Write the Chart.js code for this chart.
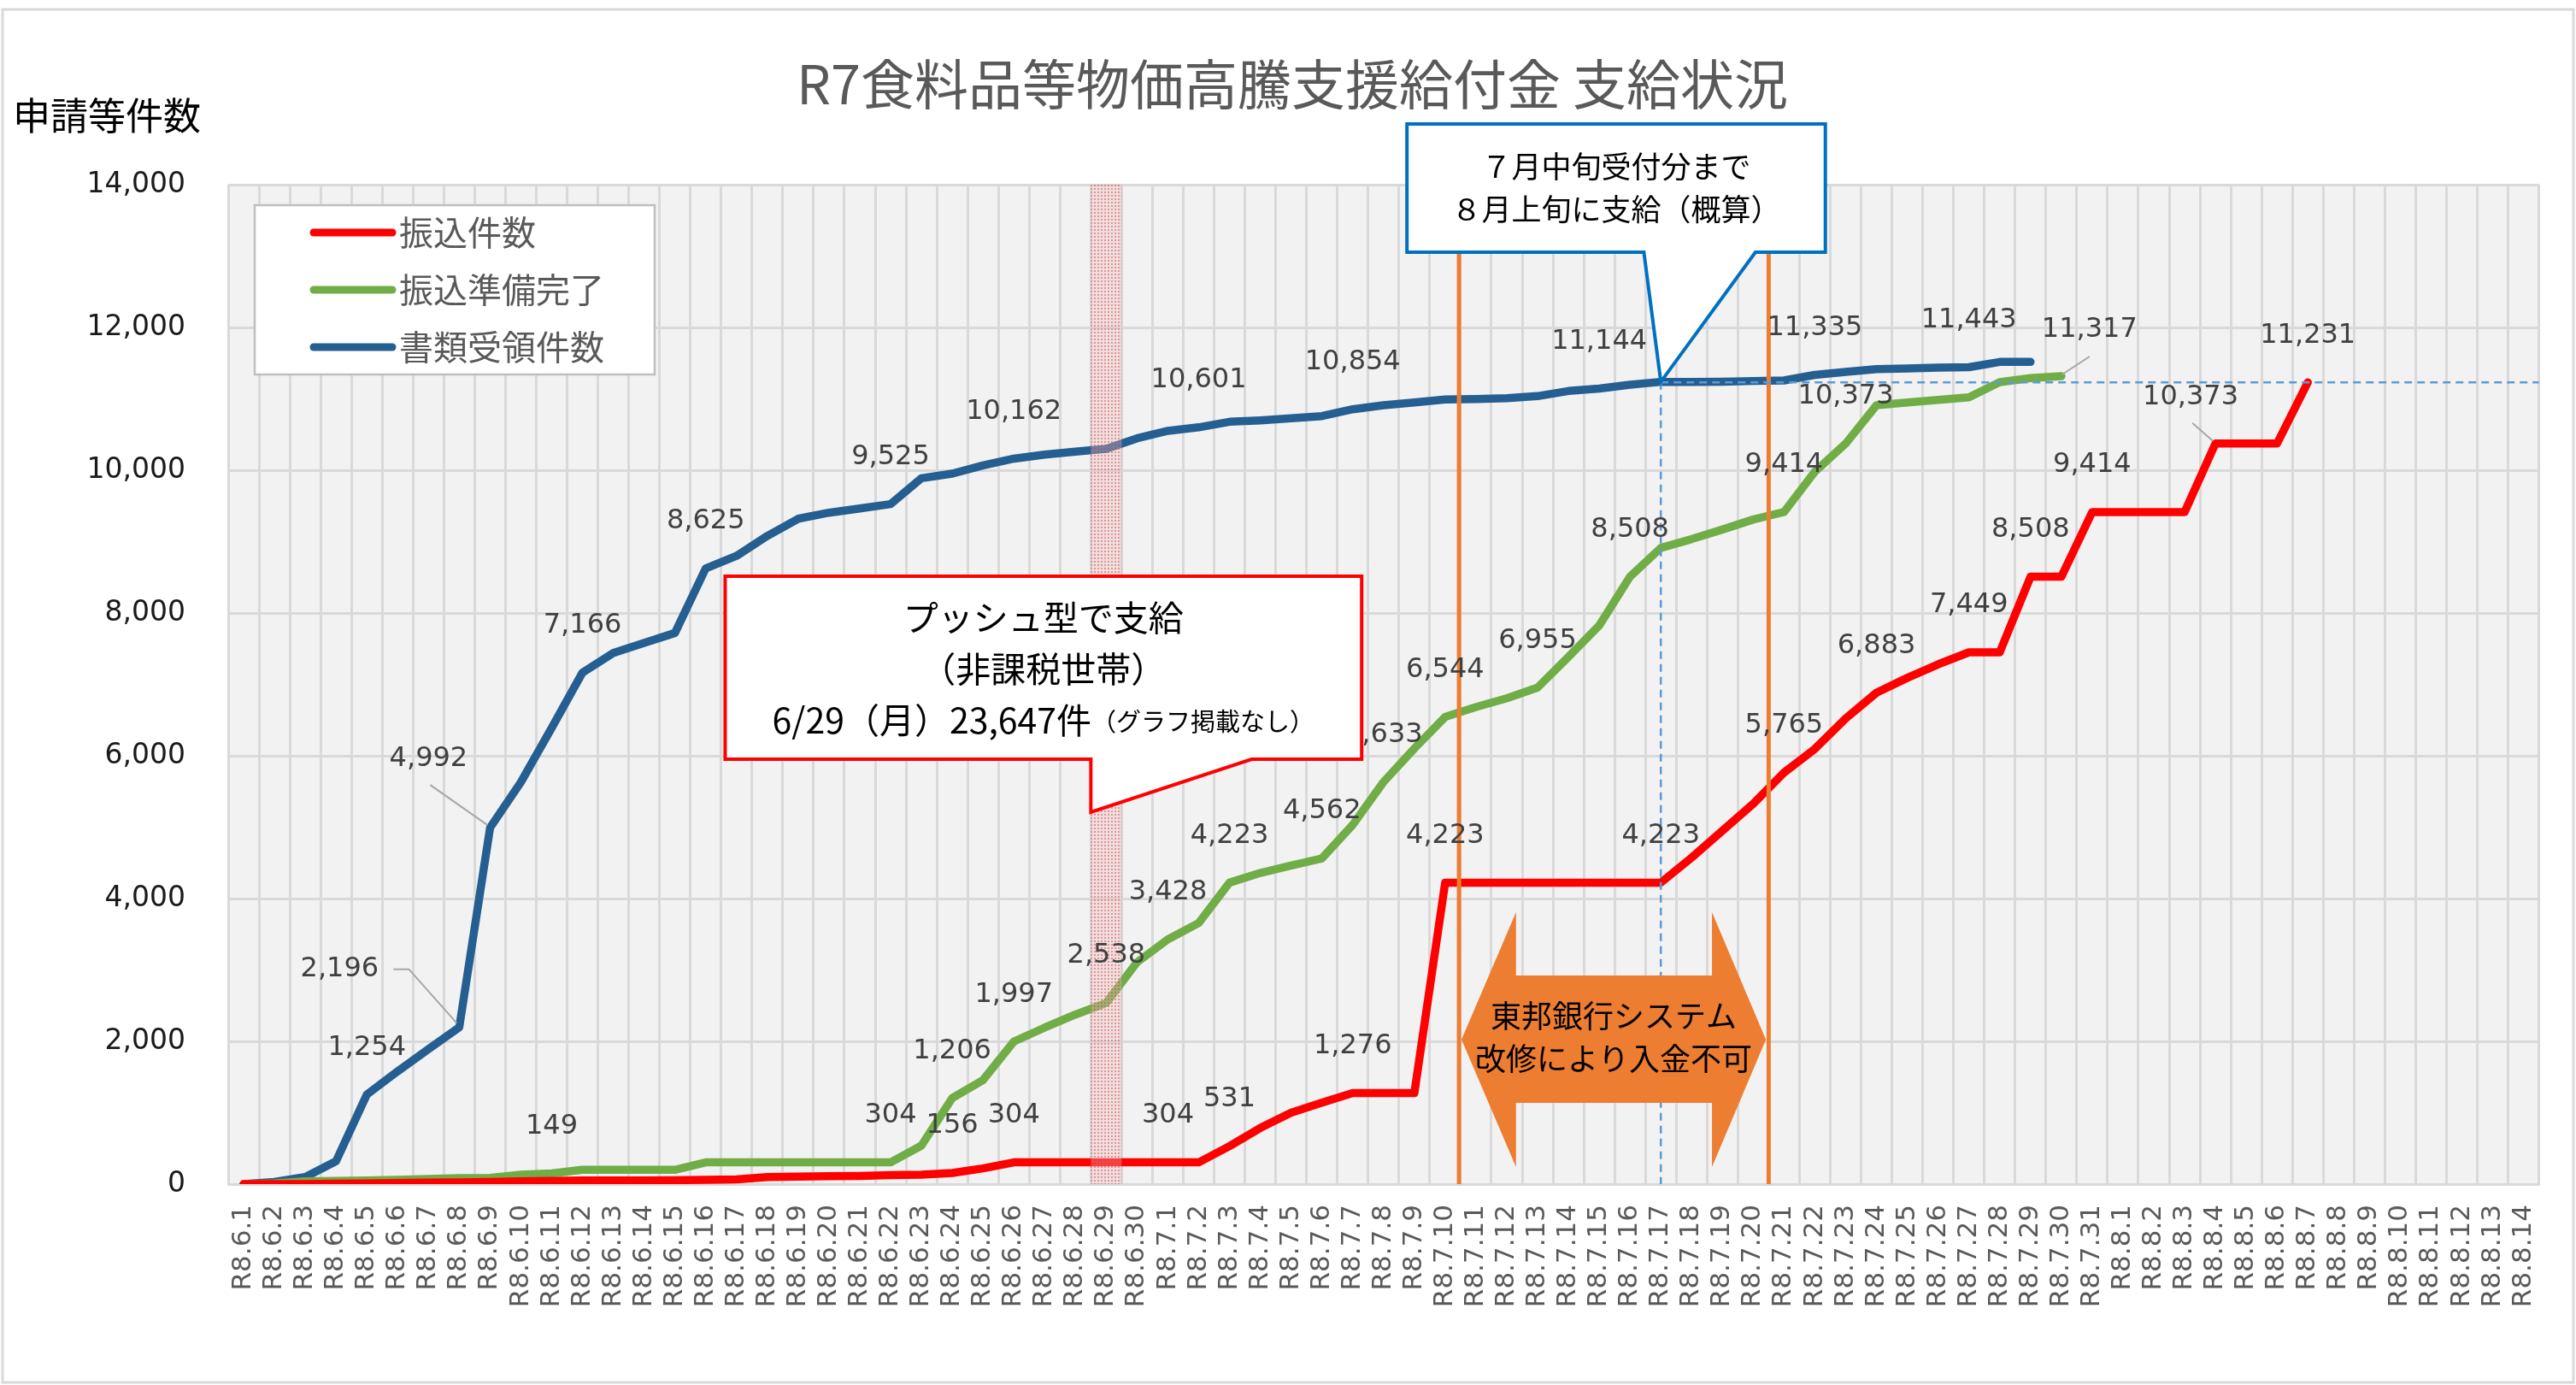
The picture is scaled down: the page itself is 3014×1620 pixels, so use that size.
<!DOCTYPE html>
<html lang="ja">
<head>
<meta charset="utf-8">
<title>R7食料品等物価高騰支援給付金 支給状況</title>
<script src="https://cdn.jsdelivr.net/npm/chart.js@4.4.1/dist/chart.umd.min.js"></script>
<style>
  html, body { margin: 0; padding: 0; background: #fff; }
  #wrap { width: 3014px; height: 1620px; }
</style>
</head>
<body>
<div id="wrap"><canvas id="chart" width="3014" height="1620"></canvas></div>
<script>
// 日付（R8.6.1 〜 R8.8.14）
const dates = [
  'R8.6.1','R8.6.2','R8.6.3','R8.6.4','R8.6.5','R8.6.6','R8.6.7','R8.6.8','R8.6.9','R8.6.10',
  'R8.6.11','R8.6.12','R8.6.13','R8.6.14','R8.6.15','R8.6.16','R8.6.17','R8.6.18','R8.6.19','R8.6.20',
  'R8.6.21','R8.6.22','R8.6.23','R8.6.24','R8.6.25','R8.6.26','R8.6.27','R8.6.28','R8.6.29','R8.6.30',
  'R8.7.1','R8.7.2','R8.7.3','R8.7.4','R8.7.5','R8.7.6','R8.7.7','R8.7.8','R8.7.9','R8.7.10',
  'R8.7.11','R8.7.12','R8.7.13','R8.7.14','R8.7.15','R8.7.16','R8.7.17','R8.7.18','R8.7.19','R8.7.20',
  'R8.7.21','R8.7.22','R8.7.23','R8.7.24','R8.7.25','R8.7.26','R8.7.27','R8.7.28','R8.7.29','R8.7.30',
  'R8.7.31','R8.8.1','R8.8.2','R8.8.3','R8.8.4','R8.8.5','R8.8.6','R8.8.7','R8.8.8','R8.8.9',
  'R8.8.10','R8.8.11','R8.8.12','R8.8.13','R8.8.14'
];

const seriesNames = ['振込件数', '振込準備完了', '書類受領件数'];

// 振込件数
const transferCount = [
  0, 0, 0, 5, 10, 15, 20, 25, 30, 40,
  45, 50, 50, 52, 55, 60, 65, 100, 105, 110,
  115, 125, 131, 156, 220, 304, 304, 304, 304, 304,
  304, 304, 531, 786, 1000, 1140, 1276, 1276, 1276, 4223,
  4223, 4223, 4223, 4223, 4223, 4223, 4223, 4574, 4950, 5327,
  5765, 6097, 6523, 6883, 7091, 7281, 7449, 7449, 8508, 8508,
  9414, 9414, 9414, 9414, 10373, 10373, 10373, 11231
];

// 振込準備完了
const readyCount = [
  0, 10, 40, 44, 52, 60, 72, 84, 88, 131,
  149, 200, 200, 200, 200, 304, 304, 304, 304, 304,
  304, 304, 539, 1206, 1457, 1997, 2192, 2375, 2538, 3108,
  3428, 3657, 4223, 4359, 4463, 4562, 5033, 5633, 6102, 6544,
  6683, 6805, 6955, 7385, 7825, 8508, 8912, 9035, 9169, 9310,
  9414, 9980, 10373, 10910, 10950, 10985, 11022, 11233, 11290, 11317
];

// 書類受領件数
const receivedCount = [
  0, 30, 100, 320, 1254, 1580, 1890, 2196, 4992, 5630,
  6390, 7166, 7440, 7580, 7720, 8625, 8800, 9080, 9320, 9405,
  9465, 9525, 9888, 9952, 10068, 10162, 10219, 10260, 10299, 10447,
  10551, 10601, 10679, 10699, 10727, 10758, 10854, 10910, 10950, 10990,
  10998, 11010, 11038, 11110, 11144, 11198, 11238, 11238, 11240, 11250,
  11257, 11335, 11377, 11417, 11425, 11437, 11443, 11517, 11517
];

// y軸目盛
const yTicks = [0, 2000, 4000, 6000, 8000, 10000, 12000, 14000];

// 値ラベルを出す日（インデックス）
const transferLabelIdx = [23, 25, 30, 32, 36, 39, 46, 50, 53, 56, 58, 60, 64, 67];
const readyLabelIdx = [10, 21, 23, 25, 28, 30, 32, 35, 37, 39, 42, 45, 50, 52, 59];
const receivedLabelIdx = [4, 7, 8, 11, 15, 21, 25, 31, 36, 44, 51, 56];

const colors = ['#FF0000', '#70AD47', '#255E91'];
const FONT_JP = '"Noto Sans CJK JP", "Noto Sans", sans-serif';
const FONT_NUM = '"DejaVu Sans", "Noto Sans", sans-serif';

// ラベル位置の個別調整（点からのずれ px、引き出し線）
const labelTweaks = {
  'b7':  { dx: -140, dy: -68, leader: [[-77, -68], [-59, -68], [-3, -5]] },
  'b8':  { dx: -72, dy: -80, leader: [[-70, -50], [-3, -3]] },
  'g59': { dx: 33, dy: -54, leader: [[1, -2], [33, -23]] },
  'r64': { dx: -29, dy: -54, leader: [[-3, -3], [-27, -24]] }
};

// 注記（カテゴリ位置・値で指定）
const pushDayIdx = 28;            // 6/29
const bankStopLines = [39.45, 49.5];
const cutoffIdx = 46;             // 7/17

const pushNote = {
  box: [15.63, 36.29, 8515, 5952],
  pointer: [27.5, 32.72],
  tip: [27.5, 5210]
};
const cutoffNote = {
  box: [37.76, 51.34, 14850, 13054],
  pointer: [45.45, 49.07]
};
const bankArrow = { x: [39.53, 41.3, 47.66, 49.41], y: [3808, 2922, 2024, 1138, 240] };

function px(chart, idx) {
  const s = chart.scales.x;
  const a = s.getPixelForValue(0), b = s.getPixelForValue(1);
  return a + (b - a) * idx;
}
function py(chart, v) {
  return chart.scales.y.getPixelForValue(v);
}
function text(ctx, str, x, y, font, color, align) {
  ctx.font = font;
  ctx.fillStyle = color;
  ctx.textAlign = align || 'center';
  ctx.textBaseline = 'middle';
  ctx.fillText(str, x, y);
}

function dotPattern(ctx) {
  const c = document.createElement('canvas');
  c.width = 4; c.height = 4;
  const g = c.getContext('2d');
  g.fillStyle = 'rgba(240,190,190,0.35)';
  g.fillRect(0, 0, 4, 4);
  g.fillStyle = 'rgba(200,60,60,0.45)';
  g.fillRect(0, 0, 2, 2);
  return ctx.createPattern(c, 'repeat');
}

const backgroundPlugin = {
  id: 'background',
  beforeDraw(chart) {
    const { ctx, chartArea: a } = chart;
    ctx.save();
    ctx.fillStyle = '#fff';
    ctx.fillRect(0, 0, chart.width, chart.height);
    ctx.strokeStyle = '#D9D9D9';
    ctx.lineWidth = 3;
    ctx.strokeRect(3, 11, chart.width - 6, chart.height - 14);
    ctx.fillStyle = '#F2F2F2';
    ctx.fillRect(a.left, a.top, a.right - a.left, a.bottom - a.top);
    ctx.restore();
  }
};

const overlayPlugin = {
  id: 'overlay',
  afterDatasetsDraw(chart) {
    const { ctx, chartArea: a } = chart;
    ctx.save();

    // 6/29 プッシュ型支給の帯
    const step = px(chart, 1) - px(chart, 0);
    ctx.fillStyle = dotPattern(ctx);
    ctx.fillRect(px(chart, pushDayIdx) - step / 2, a.top, step, a.bottom - a.top);

    // システム改修期間の縦線
    ctx.strokeStyle = '#ED7D31';
    ctx.lineWidth = 5;
    bankStopLines.forEach(i => {
      const x = px(chart, i);
      ctx.beginPath(); ctx.moveTo(x, a.top); ctx.lineTo(x, a.bottom); ctx.stroke();
    });

    // 7/17 の補助点線
    const finalTransfer = transferCount[transferCount.length - 1];
    ctx.strokeStyle = '#5B9BD5';
    ctx.lineWidth = 2.5;
    ctx.setLineDash([9, 6]);
    ctx.beginPath();
    ctx.moveTo(px(chart, cutoffIdx), py(chart, receivedCount[cutoffIdx]));
    ctx.lineTo(px(chart, cutoffIdx), a.bottom);
    ctx.moveTo(px(chart, cutoffIdx), py(chart, finalTransfer));
    ctx.lineTo(a.right, py(chart, finalTransfer));
    ctx.stroke();
    ctx.setLineDash([]);

    // 値ラベル
    const sets = [
      { key: 'r', data: transferCount, idx: transferLabelIdx },
      { key: 'g', data: readyCount, idx: readyLabelIdx },
      { key: 'b', data: receivedCount, idx: receivedLabelIdx }
    ];
    sets.forEach(s => {
      s.idx.forEach(i => {
        const x = px(chart, i), y = py(chart, s.data[i]);
        const t = labelTweaks[s.key + i] || { dx: 0, dy: -55 };
        if (t.leader) {
          ctx.strokeStyle = '#A6A6A6';
          ctx.lineWidth = 2;
          ctx.beginPath();
          t.leader.forEach((p, k) => k ? ctx.lineTo(x + p[0], y + p[1]) : ctx.moveTo(x + p[0], y + p[1]));
          ctx.stroke();
        }
        text(ctx, s.data[i].toLocaleString('en-US'), x + t.dx, y + t.dy, '32px ' + FONT_NUM, '#404040');
      });
    });

    // プッシュ型吹き出し
    drawCallout(chart, pushNote, [px(chart, pushNote.tip[0]), py(chart, pushNote.tip[1])], '#FF0000');
    const pb = pushNote.box;
    const pcx = (px(chart, pb[0]) + px(chart, pb[1])) / 2;
    const ptop = py(chart, pb[2]);
    text(ctx, 'プッシュ型で支給', pcx, ptop + 48, '41px ' + FONT_JP, '#000');
    text(ctx, '（非課税世帯）', pcx, ptop + 108, '41px ' + FONT_JP, '#000');
    const main = '6/29（月）23,647件', sub = '（グラフ掲載なし）';
    ctx.font = '41px ' + FONT_JP;
    const w1 = ctx.measureText(main).width;
    ctx.font = '29px ' + FONT_JP;
    const w2 = ctx.measureText(sub).width;
    const sx = pcx - (w1 + w2) / 2;
    text(ctx, main, sx, ptop + 168, '41px ' + FONT_JP, '#000', 'left');
    text(ctx, sub, sx + w1, ptop + 170, '29px ' + FONT_JP, '#000', 'left');

    // 7月中旬受付分の吹き出し
    drawCallout(chart, cutoffNote, [px(chart, cutoffIdx), py(chart, receivedCount[cutoffIdx])], '#0070C0');
    const cb = cutoffNote.box;
    const ccx = (px(chart, cb[0]) + px(chart, cb[1])) / 2;
    const ctop = py(chart, cb[2]);
    text(ctx, '７月中旬受付分まで', ccx, ctop + 50, '35px ' + FONT_JP, '#000');
    text(ctx, '８月上旬に支給（概算）', ccx, ctop + 100, '35px ' + FONT_JP, '#000');

    // 入金不可の両矢印
    const ax = bankArrow.x.map(v => px(chart, v));
    const ay = bankArrow.y.map(v => py(chart, v));
    ctx.fillStyle = '#ED7D31';
    ctx.beginPath();
    ctx.moveTo(ax[0], ay[2]);
    ctx.lineTo(ax[1], ay[0]);
    ctx.lineTo(ax[1], ay[1]);
    ctx.lineTo(ax[2], ay[1]);
    ctx.lineTo(ax[2], ay[0]);
    ctx.lineTo(ax[3], ay[2]);
    ctx.lineTo(ax[2], ay[4]);
    ctx.lineTo(ax[2], ay[3]);
    ctx.lineTo(ax[1], ay[3]);
    ctx.lineTo(ax[1], ay[4]);
    ctx.closePath();
    ctx.fill();
    const acx = (ax[0] + ax[3]) / 2;
    text(ctx, '東邦銀行システム', acx, ay[2] - 28, '36px ' + FONT_JP, '#000');
    text(ctx, '改修により入金不可', acx, ay[2] + 22, '36px ' + FONT_JP, '#000');

    // 凡例
    const lx = a.left + 31, ly = a.top + 24;
    ctx.fillStyle = '#fff';
    ctx.fillRect(lx, ly, 468, 198);
    ctx.strokeStyle = '#BFBFBF';
    ctx.lineWidth = 2.5;
    ctx.strokeRect(lx, ly, 468, 198);
    seriesNames.forEach((name, k) => {
      const y = ly + 32 + k * 67;
      ctx.strokeStyle = colors[k];
      ctx.lineWidth = 9;
      ctx.lineCap = 'round';
      ctx.beginPath(); ctx.moveTo(lx + 69, y); ctx.lineTo(lx + 161, y); ctx.stroke();
      text(ctx, name, lx + 169, y, '40px ' + FONT_JP, '#595959', 'left');
    });

    ctx.restore();
  },
  afterDraw(chart) {
    const ctx = chart.ctx;
    ctx.save();
    text(ctx, 'R7食料品等物価高騰支援給付金 支給状況', 1512, 98, '63px ' + FONT_JP, '#595959');
    text(ctx, '申請等件数', 15, 135, '44px ' + FONT_JP, '#000', 'left');
    ctx.restore();
  }
};

function drawCallout(chart, note, tip, color) {
  const ctx = chart.ctx;
  const x0 = px(chart, note.box[0]), x1 = px(chart, note.box[1]);
  const y0 = py(chart, note.box[2]), y1 = py(chart, note.box[3]);
  const pl = px(chart, note.pointer[0]), pr = px(chart, note.pointer[1]);
  ctx.beginPath();
  ctx.moveTo(x0, y0);
  ctx.lineTo(x1, y0);
  ctx.lineTo(x1, y1);
  ctx.lineTo(pr, y1);
  ctx.lineTo(tip[0], tip[1]);
  ctx.lineTo(pl, y1);
  ctx.lineTo(x0, y1);
  ctx.closePath();
  ctx.fillStyle = '#fff';
  ctx.fill();
  ctx.strokeStyle = color;
  ctx.lineWidth = 4;
  ctx.lineJoin = 'miter';
  ctx.stroke();
}

const ctx = document.getElementById('chart').getContext('2d');
new Chart(ctx, {
  type: 'line',
  data: {
    labels: dates,
    datasets: [
      { label: seriesNames[0], data: transferCount, borderColor: colors[0], backgroundColor: colors[0] },
      { label: seriesNames[1], data: readyCount, borderColor: colors[1], backgroundColor: colors[1] },
      { label: seriesNames[2], data: receivedCount, borderColor: colors[2], backgroundColor: colors[2] }
    ]
  },
  options: {
    responsive: false,
    animation: false,
    devicePixelRatio: 1,
    layout: { padding: { top: 216, right: 36, left: 0, bottom: 0 } },
    elements: {
      point: { radius: 0, hoverRadius: 0 },
      line: { borderWidth: 9.5, tension: 0, borderCapStyle: 'round', borderJoinStyle: 'round', fill: false }
    },
    plugins: {
      legend: { display: false },
      tooltip: { enabled: false },
      title: { display: false }
    },
    scales: {
      x: {
        offset: true,
        grid: { offset: true, color: '#D9D9D9', lineWidth: 3, drawTicks: false },
        border: { color: '#D9D9D9', width: 3 },
        ticks: {
          autoSkip: false,
          minRotation: 90,
          maxRotation: 90,
          padding: 24,
          color: '#595959',
          font: { family: FONT_NUM, size: 31 }
        },
        afterFit(scale) { scale.height = 235; }
      },
      y: {
        min: yTicks[0],
        max: yTicks[yTicks.length - 1],
        afterBuildTicks(scale) { scale.ticks = yTicks.map(v => ({ value: v })); },
        grid: { color: '#D9D9D9', lineWidth: 3, drawTicks: false },
        border: { display: false },
        ticks: {
          padding: 50,
          color: '#1a1a1a',
          font: { family: FONT_NUM, size: 33 },
          callback: v => v.toLocaleString('en-US')
        },
        afterFit(scale) { scale.width = 267; }
      }
    }
  },
  plugins: [backgroundPlugin, overlayPlugin]
});
</script>
</body>
</html>
